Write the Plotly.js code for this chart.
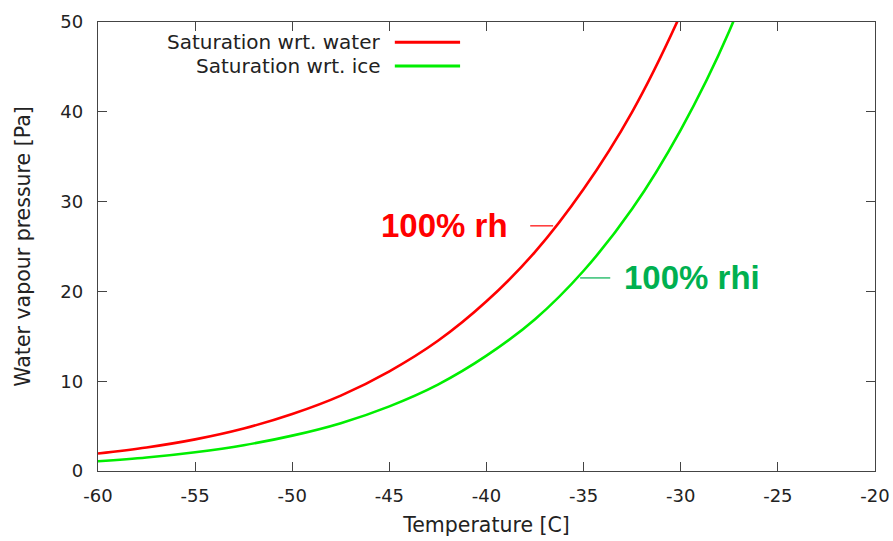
<!DOCTYPE html>
<html><head><meta charset="utf-8">
<script src="https://cdn.plot.ly/plotly-3.0.1.min.js"></script>
<style>body{margin:0;background:#fff}#chart{width:893px;height:541px}</style>
</head><body><div id="chart"></div>
<script>
// Temperature [C]
const temps = [-60, -57.5, -55, -52.5, -50, -47.5, -45, -42.5, -40, -37.5, -35, -32.5, -30, -27.5, -25];
// Saturation vapour pressure wrt. water [Pa]
const waterP = [1.95, 2.62, 3.52, 4.73, 6.35, 8.40, 11.1, 14.5, 18.9, 24.4, 31.4, 40.0, 50.9, 64.1, 80.7];
// Saturation vapour pressure wrt. ice [Pa]
const iceP = [1.08, 1.50, 2.09, 2.87, 3.94, 5.33, 7.20, 9.62, 12.84, 16.9, 22.3, 29.2, 38.0, 49.0, 63.3];
const seriesNames = ['Saturation wrt. water', 'Saturation wrt. ice'];
const xTicks = [-60, -55, -50, -45, -40, -35, -30, -25, -20];
const yTicks = [0, 10, 20, 30, 40, 50];
// label anchor points on curves
const rhLabel = {text: '100% rh', x: -36.57, y: 27.3};
const rhiLabel = {text: '100% rhi', x: -35.18, y: 21.5};

const font = 'DejaVu Sans, sans-serif';
const axisCommon = {
  showline: true, mirror: 'ticks', linecolor: '#444', linewidth: 1.2,
  ticks: 'inside', ticklen: 9, tickcolor: '#444', tickwidth: 1.2,
  showgrid: false, zeroline: false,
  tickfont: {family: font, size: 18, color: '#222'}
};

const traces = [
  {x: temps, y: waterP, mode: 'lines', name: seriesNames[0], line: {color: '#ff0000', width: 2.6, shape: 'spline'}, showlegend: false},
  {x: temps, y: iceP, mode: 'lines', name: seriesNames[1], line: {color: '#00ee00', width: 2.6, shape: 'spline'}, showlegend: false}
];

const layout = {
  width: 893, height: 541,
  margin: {l: 98, r: 18, t: 22, b: 70},
  paper_bgcolor: '#fff', plot_bgcolor: '#fff',
  xaxis: Object.assign({}, axisCommon, {
    range: [-60, -20], tickvals: xTicks, ticktext: xTicks.map(String), ticklabelstandoff: 8,
    title: {text: 'Temperature [C]', font: {family: font, size: 20.5, color: '#222'}, standoff: 12}
  }),
  yaxis: Object.assign({}, axisCommon, {
    range: [0, 50], tickvals: yTicks, ticktext: yTicks.map(String), ticklabelstandoff: 10,
    title: {text: 'Water vapour pressure [Pa]', font: {family: font, size: 20.5, color: '#222'}, standoff: 24}
  }),
  annotations: [
    {xref: 'paper', yref: 'paper', x: 0.367, y: 0.955, xanchor: 'right', yanchor: 'middle', showarrow: false,
     text: seriesNames[0], font: {family: font, size: 20, color: '#222'}},
    {xref: 'paper', yref: 'paper', x: 0.367, y: 0.902, xanchor: 'right', yanchor: 'middle', showarrow: false,
     text: seriesNames[1], font: {family: font, size: 20, color: '#222'}},
    {x: rhLabel.x - 2.21, y: rhLabel.y, xanchor: 'right', yanchor: 'middle', showarrow: false,
     text: '<b>' + rhLabel.text + '</b>', font: {family: 'Liberation Sans, Arial, sans-serif', size: 33, color: '#ff0000'}},
    {x: rhiLabel.x + 2.17, y: rhiLabel.y, xanchor: 'left', yanchor: 'middle', showarrow: false,
     text: '<b>' + rhiLabel.text + '</b>', font: {family: 'Liberation Sans, Arial, sans-serif', size: 33, color: '#00b050'}}
  ],
  shapes: [
    {type: 'line', xref: 'paper', yref: 'paper', x0: 0.382, x1: 0.466, y0: 0.955, y1: 0.955, line: {color: '#ff0000', width: 3}},
    {type: 'line', xref: 'paper', yref: 'paper', x0: 0.382, x1: 0.466, y0: 0.902, y1: 0.902, line: {color: '#00ee00', width: 3}},
    {type: 'line', x0: rhLabel.x - 1.18, x1: rhLabel.x, y0: rhLabel.y, y1: rhLabel.y, line: {color: '#ff0000', width: 1.2}},
    {type: 'line', x0: rhiLabel.x, x1: rhiLabel.x + 1.55, y0: rhiLabel.y, y1: rhiLabel.y, line: {color: '#00b050', width: 1.2}}
  ]
};
Plotly.newPlot('chart', traces, layout, {displayModeBar: false, staticPlot: true});
</script></body></html>
